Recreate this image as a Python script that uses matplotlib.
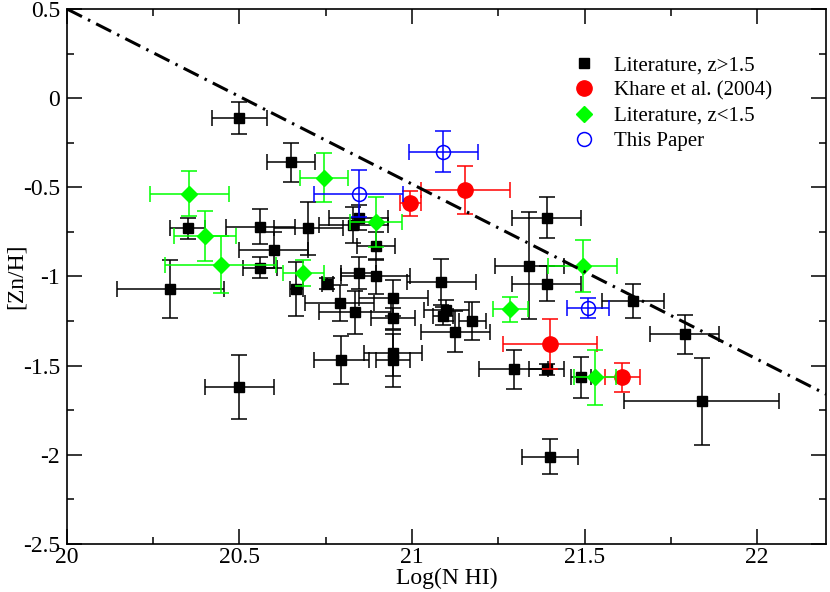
import matplotlib.pyplot as plt
from matplotlib.lines import Line2D

plt.rcParams['font.family'] = ['Liberation Serif', 'DejaVu Serif']

# Literature, z>1.5
lit_hi_x = [20.50, 20.65, 20.35, 20.56, 20.70, 20.60, 20.56, 20.30, 20.665, 20.755,
            20.79, 20.845, 20.83, 20.895, 20.845, 20.895, 20.835, 20.945, 20.945, 21.085,
            21.10, 21.09, 21.125, 21.175, 20.795, 20.945, 20.945, 21.295, 21.39, 21.34,
            21.39, 21.64, 21.79, 21.39, 21.49, 21.84, 21.40, 20.50]
lit_hi_y = [-0.11, -0.36, -0.73, -0.72, -0.73, -0.85, -0.95, -1.07, -1.07, -1.04,
            -1.15, -0.67, -0.71, -0.83, -0.98, -1.00, -1.20, -1.12, -1.235, -1.03,
            -1.19, -1.22, -1.31, -1.25, -1.47, -1.43, -1.47, -1.52, -0.67, -0.94,
            -1.04, -1.135, -1.325, -1.52, -1.565, -1.70, -2.01, -1.62]
lit_hi_xerr = [0.08, 0.07, 0.05, 0.10, 0.10, 0.10, 0.05, 0.155, 0.02, 0.015,
               0.10, 0.085, 0.10, 0.055, 0.05, 0.10, 0.105, 0.10, 0.065, 0.10,
               0.065, 0.03, 0.10, 0.04, 0.08, 0.085, 0.05, 0.10, 0.10, 0.10,
               0.10, 0.09, 0.10, 0.05, 0.03, 0.225, 0.08, 0.10]
lit_hi_yerr = [0.09, 0.11, 0.06, 0.10, 0.15, 0.10, 0.06, 0.16, 0.15, 0.03,
               0.10, 0.07, 0.10, 0.08, 0.09, 0.10, 0.12, 0.10, 0.06, 0.13,
               0.06, 0.05, 0.115, 0.105, 0.135, 0.13, 0.15, 0.11, 0.115, 0.30,
               0.10, 0.095, 0.11, 0.03, 0.115, 0.245, 0.10, 0.18]

# Khare et al. (2004)
khare_x = [20.995, 21.155, 21.40, 21.61]
khare_y = [-0.59, -0.515, -1.38, -1.565]
khare_xerr = [0.03, 0.13, 0.135, 0.05]
khare_yerr = [0.07, 0.135, 0.14, 0.08]

# Literature, z<1.5
lit_lo_x = [20.355, 20.745, 20.40, 20.445, 20.685, 20.895, 21.285, 21.495, 21.53]
lit_lo_y = [-0.535, -0.445, -0.775, -0.935, -0.98, -0.695, -1.185, -0.94, -1.565]
lit_lo_xerr = [0.115, 0.07, 0.09, 0.16, 0.06, 0.075, 0.05, 0.10, 0.06]
lit_lo_yerr = [0.125, 0.14, 0.14, 0.16, 0.075, 0.14, 0.07, 0.145, 0.155]

# This Paper
paper_x = [20.845, 21.09, 21.51]
paper_y = [-0.535, -0.30, -1.175]
paper_xerr = [0.13, 0.10, 0.06]
paper_yerr = [0.13, 0.115, 0.055]

# dash-dot line
line_x = [20.0, 22.2]
line_y = [0.5, -1.66]

fig = plt.figure(figsize=(8.3, 5.92), dpi=100)
ax = fig.add_axes([0.0807, 0.0811, 0.9145, 0.9037])

eb = dict(ls='none', elinewidth=1.1, capsize=6, capthick=1.1)
ax.errorbar(lit_hi_x, lit_hi_y, xerr=lit_hi_xerr, yerr=lit_hi_yerr, marker='s', ms=7,
            color='black', ecolor='black', zorder=2, **eb)
ax.errorbar(khare_x, khare_y, xerr=khare_xerr, yerr=khare_yerr, marker='o', ms=11,
            color='red', ecolor='red', zorder=3, **eb)
ax.errorbar(lit_lo_x, lit_lo_y, xerr=lit_lo_xerr, yerr=lit_lo_yerr, marker='D', ms=8,
            color='#00ff00', ecolor='#00ff00', zorder=4, **eb)
ax.errorbar(paper_x, paper_y, xerr=paper_xerr, yerr=paper_yerr, marker='o', ms=10,
            mfc='none', mec='blue', mew=1.1, color='blue', ecolor='blue', zorder=5, **eb)

ax.plot(line_x, line_y, color='black', lw=2.2, dashes=(5.5, 2.2, 0.8, 2.2), zorder=6)

ax.set_xlim(20, 22.2)
ax.set_ylim(-2.5, 0.5)
ax.set_xticks([20, 20.5, 21, 21.5, 22])
ax.set_xticklabels(['20', '20.5', '21', '21.5', '22'])
ax.set_yticks([-2.5, -2, -1.5, -1, -0.5, 0, 0.5])
ax.set_yticklabels(['-2.5', '-2', '-1.5', '-1', '-0.5', '0', '0.5'])
ax.set_xticks([20.25, 20.75, 21.25, 21.75], minor=True)
ax.set_yticks([-2.25, -1.75, -1.25, -0.75, -0.25, 0.25], minor=True)
ax.tick_params(which='both', direction='in', top=True, right=True, width=1.1)
ax.tick_params(which='major', length=11, labelsize=17)
ax.tick_params(which='minor', length=5)
ax.tick_params(axis='x', pad=2)
ax.tick_params(axis='y', pad=5)
for s in ax.spines.values():
    s.set_linewidth(1.2)

ax.set_xlabel('Log(N HI)', fontsize=17, labelpad=0)
ax.set_ylabel('[Zn/H]', fontsize=17)
ax.yaxis.set_label_coords(-0.053, 0.5)

handles = [
    Line2D([], [], ls='none', marker='s', ms=7, color='black'),
    Line2D([], [], ls='none', marker='o', ms=11, color='red'),
    Line2D([], [], ls='none', marker='D', ms=8, color='#00ff00'),
    Line2D([], [], ls='none', marker='o', ms=10, mfc='none', mec='blue', mew=1.1),
]
labels = ['Literature, z>1.5', 'Khare et al. (2004)', 'Literature, z<1.5', 'This Paper']
ax.legend(handles, labels, loc='upper left', bbox_to_anchor=(0.668, 0.913), frameon=False,
          fontsize=15, handlelength=1.0, handletextpad=0.9, labelspacing=0.28,
          borderpad=0, borderaxespad=0)

fig.savefig('out.png', dpi=100)
